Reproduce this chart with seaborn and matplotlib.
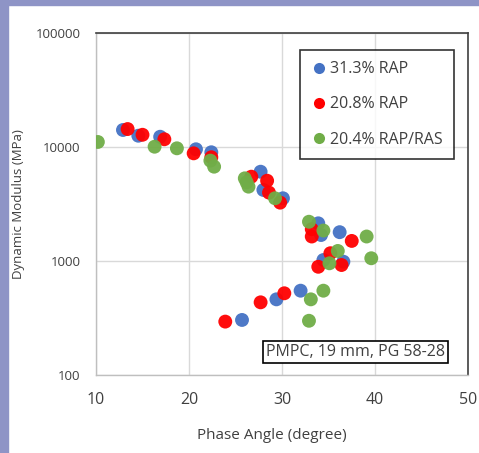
import numpy as np
import pandas as pd
import seaborn as sns
import matplotlib.pyplot as plt
from matplotlib.lines import Line2D
from matplotlib.patches import Rectangle

# phase angle (degree) and dynamic modulus (MPa)
rap31_angle = [12.9, 14.55, 16.9, 20.75, 22.4, 27.7, 28.0, 30.1, 33.9, 34.2,
               36.2, 34.45, 36.6, 25.7, 29.4, 32.0]
rap31_mod = [14100, 12560, 12300, 9550, 8990, 6070, 4200, 3550, 2140, 1690,
             1790, 1020, 986, 304, 461, 549]

rap20_angle = [13.4, 15.0, 17.35, 20.5, 22.4, 26.7, 28.4, 28.6, 29.8, 33.2,
               33.2, 37.5, 35.2, 33.9, 36.4, 23.9, 27.7, 30.25]
rap20_mod = [14370, 12800, 11690, 8800, 8130, 5490, 5060, 3980, 3250, 1900,
             1640, 1500, 1170, 890, 922, 294, 434, 521]

ras_angle = [10.2, 16.3, 18.7, 22.3, 22.7, 26.0, 26.4, 26.2, 29.25, 32.9,
             34.45, 39.1, 39.6, 36.0, 35.1, 33.1, 34.45, 32.9]
ras_mod = [11070, 10060, 9740, 7590, 6720, 5310, 4490, 4900, 3550, 2210,
           1850, 1640, 1057, 1225, 955, 461, 549, 299]

labels = ['31.3% RAP', '20.8% RAP', '20.4% RAP/RAS']
colors = ['#4472C4', '#FF0000', '#70AD47']

df = pd.concat([
    pd.DataFrame({'angle': rap31_angle, 'modulus': rap31_mod, 'mix': labels[0]}),
    pd.DataFrame({'angle': rap20_angle, 'modulus': rap20_mod, 'mix': labels[1]}),
    pd.DataFrame({'angle': ras_angle, 'modulus': ras_mod, 'mix': labels[2]}),
])

sns.set_style('white')
plt.rcParams['font.family'] = ['Open Sans', 'DejaVu Sans']

fig = plt.figure(figsize=(4.79, 4.53), dpi=100)
ax = fig.add_axes([96 / 479, 1 - 375 / 453, 372 / 479, 342 / 453])

# purple frame on the left and top of the picture
fig.patches.append(Rectangle((0, 0), 8 / 479, 1, transform=fig.transFigure,
                             color='#8E94C6', zorder=0))
fig.patches.append(Rectangle((0, 1 - 5 / 453), 1, 5 / 453, transform=fig.transFigure,
                             color='#8E94C6', zorder=0))

sns.scatterplot(data=df, x='angle', y='modulus', hue='mix', palette=colors,
                s=100, edgecolor='none', alpha=0.95, legend=False, ax=ax, zorder=3)

ax.set_yscale('log')
ax.set_xlim(10, 50)
ax.set_ylim(100, 100000)
ax.set_xticks([10, 20, 30, 40, 50])
ax.set_yticks([100, 1000, 10000, 100000])
ax.set_yticklabels(['100', '1000', '10000', '100000'])
ax.minorticks_off()
ax.tick_params(axis='y', labelsize=9.5, length=0, pad=11, colors='#404040')
ax.tick_params(axis='x', labelsize=11.5, length=0, pad=12, colors='#404040')
ax.grid(True, color='#d9d9d9', linewidth=1)
ax.set_axisbelow(True)

for side in ['top', 'right']:
    ax.spines[side].set_color('#404040')
    ax.spines[side].set_linewidth(1.2)
for side in ['left', 'bottom']:
    ax.spines[side].set_color('#bfbfbf')
    ax.spines[side].set_linewidth(1)

ax.set_xlabel('Phase Angle (degree)', fontsize=11, color='#404040', labelpad=13)
ax.xaxis.set_label_coords(0.473, -0.155)
ax.set_ylabel('Dynamic Modulus (MPa)', fontsize=9.5, color='#404040', labelpad=8)

handles = [Line2D([], [], marker='o', linestyle='none', markersize=8,
                  markerfacecolor=c, markeredgecolor='none') for c in colors]
leg = ax.legend(handles, labels, loc='upper right', bbox_to_anchor=(0.962, 0.95),
                frameon=True, fancybox=False, edgecolor='black', fontsize=11.5,
                handletextpad=0.2, labelspacing=1.2, borderpad=0.7,
                handlelength=1.0, borderaxespad=0)
leg.get_frame().set_linewidth(1.2)
for t in leg.get_texts():
    t.set_color('#404040')

ax.text(0.938, 0.067, 'PMPC, 19 mm, PG 58-28', transform=ax.transAxes,
        ha='right', va='center', fontsize=11.5, color='#404040',
        bbox=dict(boxstyle='square,pad=0.2', facecolor='white',
                  edgecolor='black', linewidth=1.2), zorder=5)

fig.savefig('out.png', dpi=100)
